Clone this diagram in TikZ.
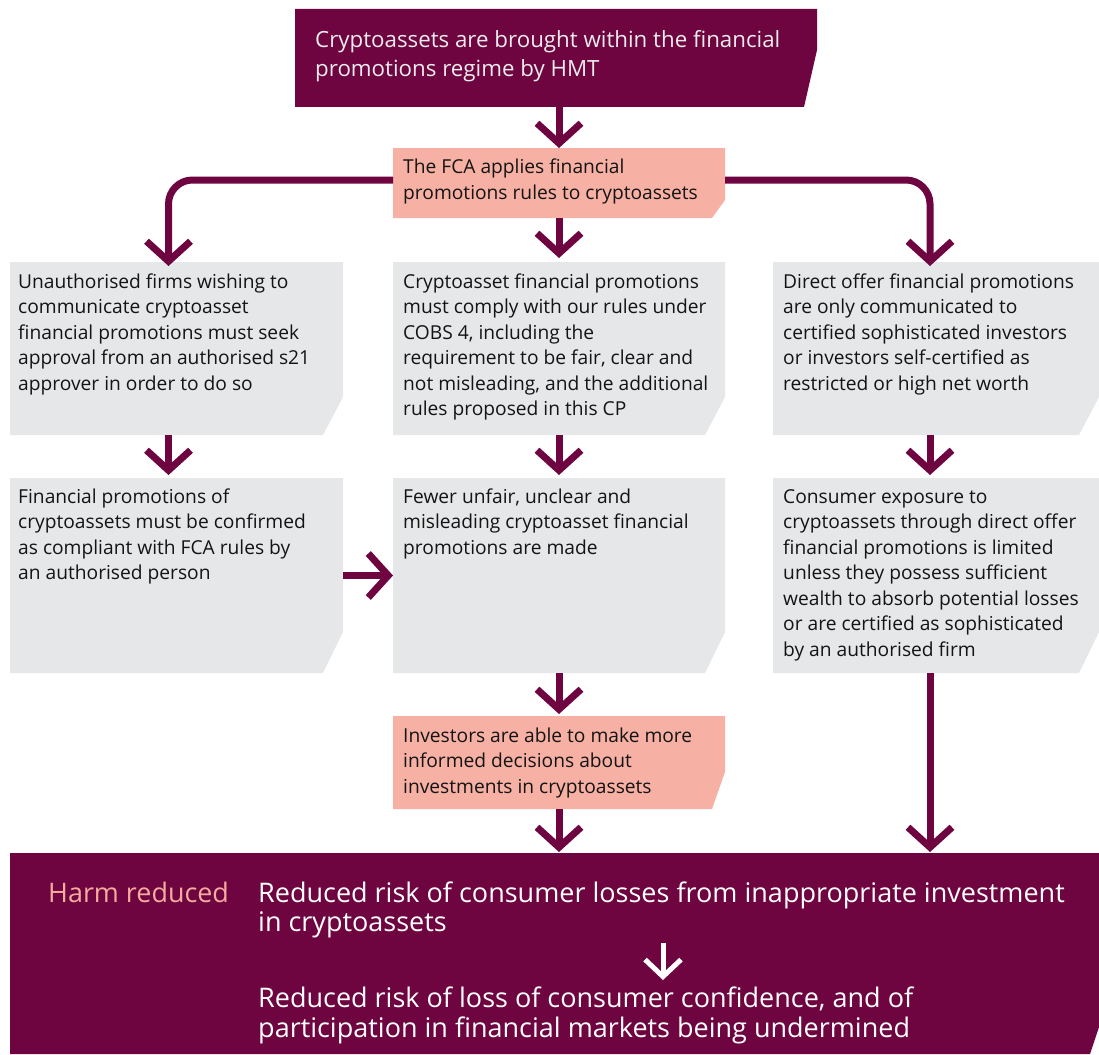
\documentclass[tikz,border=0pt]{standalone}
\usepackage{fontspec}
\setmainfont{Open Sans}
\usetikzlibrary{arrows.meta}
\definecolor{fcapurple}{RGB}{110,5,64}
\definecolor{fcapink}{RGB}{247,176,164}
\definecolor{fcagray}{RGB}{230,231,232}
\definecolor{harmpink}{RGB}{245,172,158}
\definecolor{toptext}{RGB}{236,236,236}
\tikzset{
  box/.style={inner sep=0pt, outer sep=0pt, anchor=north west},
  txt/.style={inner sep=0pt, anchor=base west, align=left, text=black!92,
    font=\fontsize{19.2}{25.5}\selectfont},
  flow/.style={draw=fcapurple, line width=7pt, line join=miter,
    -{Straight Barb[length=20pt,width=44pt,line join=miter]}},
  whiteflow/.style={draw=white, line width=5pt, line join=miter,
    -{Straight Barb[length=17pt,width=36pt,line join=miter]}},
}
\newcommand\mkbox[8]{%
  \node[box, minimum width={#4-#2}, minimum height={#5-#3}] (#1) at (#2,#3) {};
  \fill[#8] (#1.north west) -- (#1.north east) -- ([yshift=#7pt]#1.south east)
    -- ([xshift=-#6pt]#1.south east) -- (#1.south west) -- cycle;
}
\begin{document}
\begin{tikzpicture}[x=1pt,y=-1pt]
\useasboundingbox (0,0) rectangle (1099,1054);
% boxes
\mkbox{top}{295}{9}{817}{107}{13}{57}{fcapurple}
\mkbox{fca}{393}{148}{725}{218}{13}{18}{fcapink}
\mkbox{lone}{10}{262}{343}{435}{20}{38}{fcagray}
\mkbox{mone}{393}{262}{725}{435}{20}{38}{fcagray}
\mkbox{rone}{773}{262}{1099}{435}{20}{38}{fcagray}
\mkbox{ltwo}{10}{478}{343}{673}{20}{41}{fcagray}
\mkbox{mtwo}{393}{478}{725}{673}{20}{41}{fcagray}
\mkbox{rtwo}{773}{478}{1099}{673}{20}{41}{fcagray}
\mkbox{inv}{393}{716}{725}{809}{13}{37}{fcapink}
\mkbox{harm}{10}{853}{1099}{1054}{9}{27}{fcapurple}
% texts (anchored at the baseline of the last line)
\node[txt, text=toptext, font=\fontsize{22.3}{29}\selectfont] (ttop) at (315,77)
  {Cryptoassets are brought within the financial\\promotions regime by HMT};
\node[txt] (tfca) at (403,199)
  {The FCA applies financial\\promotions rules to cryptoassets};
\node[txt] (tlone) at (18,390)
  {Unauthorised firms wishing to\\communicate cryptoasset\\financial promotions must seek\\approval from an authorised s21\\approver in order to do so};
\node[txt] (tmone) at (403,415.5)
  {Cryptoasset financial promotions\\must comply with our rules under\\COBS 4, including the\\requirement to be fair, clear and\\not misleading, and the additional\\rules proposed in this CP};
\node[txt] (trone) at (783,390)
  {Direct offer financial promotions\\are only communicated to\\certified sophisticated investors\\or investors self-certified as\\restricted or high net worth};
\node[txt] (tltwo) at (18,579.5)
  {Financial promotions of\\cryptoassets must be confirmed\\as compliant with FCA rules by\\an authorised person};
\node[txt] (tmtwo) at (403,554)
  {Fewer unfair, unclear and\\misleading cryptoasset financial\\promotions are made};
\node[txt] (trtwo) at (783,656)
  {Consumer exposure to\\cryptoassets through direct offer\\financial promotions is limited\\unless they possess sufficient\\wealth to absorb potential losses\\or are certified as sophisticated\\by an authorised firm};
\node[txt] (tinv) at (403,793)
  {Investors are able to make more\\informed decisions about\\investments in cryptoassets};
\node[txt, text=harmpink, font=\fontsize{26.9}{29.5}\selectfont] (tharm) at (48,902) {Harm reduced};
\node[txt, text=white, font=\fontsize{27}{29.5}\selectfont] (hone) at (258,931.5)
  {Reduced risk of consumer losses from inappropriate investment\\in cryptoassets};
\node[txt, text=white, font=\fontsize{27}{29.5}\selectfont] (htwo) at (258,1037)
  {Reduced risk of loss of consumer confidence, and of\\participation in financial markets being undermined};
% connectors
\draw[flow] (top.south -| fca.north) -- (fca.north);
\draw[flow, rounded corners=24pt] ([yshift=3pt]fca.west) -| ([xshift=-8pt,yshift=-4pt]lone.north);
\draw[flow, rounded corners=24pt] ([yshift=3pt]fca.east) -| ([xshift=-6pt,yshift=-4pt]rone.north);
\draw[flow, shorten >=4pt] (fca.south) -- (mone.north);
\draw[flow, shorten >=3pt] ([xshift=-8pt]lone.south) -- ([xshift=-8pt]ltwo.north);
\draw[flow, shorten >=3pt] (mone.south) -- (mtwo.north);
\draw[flow, shorten >=3pt] ([xshift=-6pt]rone.south) -- ([xshift=-6pt]rtwo.north);
\draw[flow] (ltwo.east) -- (mtwo.west);
\draw[flow, shorten >=2pt] (mtwo.south) -- (inv.north);
\draw[flow, shorten >=1pt] (inv.south) -- (inv.south |- harm.north);
\draw[flow, shorten >=1pt] ([xshift=-6pt]rtwo.south) -- ([xshift=-6pt]rtwo.south |- harm.north);
\coordinate (wstart) at (663,943);
\coordinate (wend) at (663,980);
\draw[whiteflow] (wstart) -- (wend);
\end{tikzpicture}
\end{document}
